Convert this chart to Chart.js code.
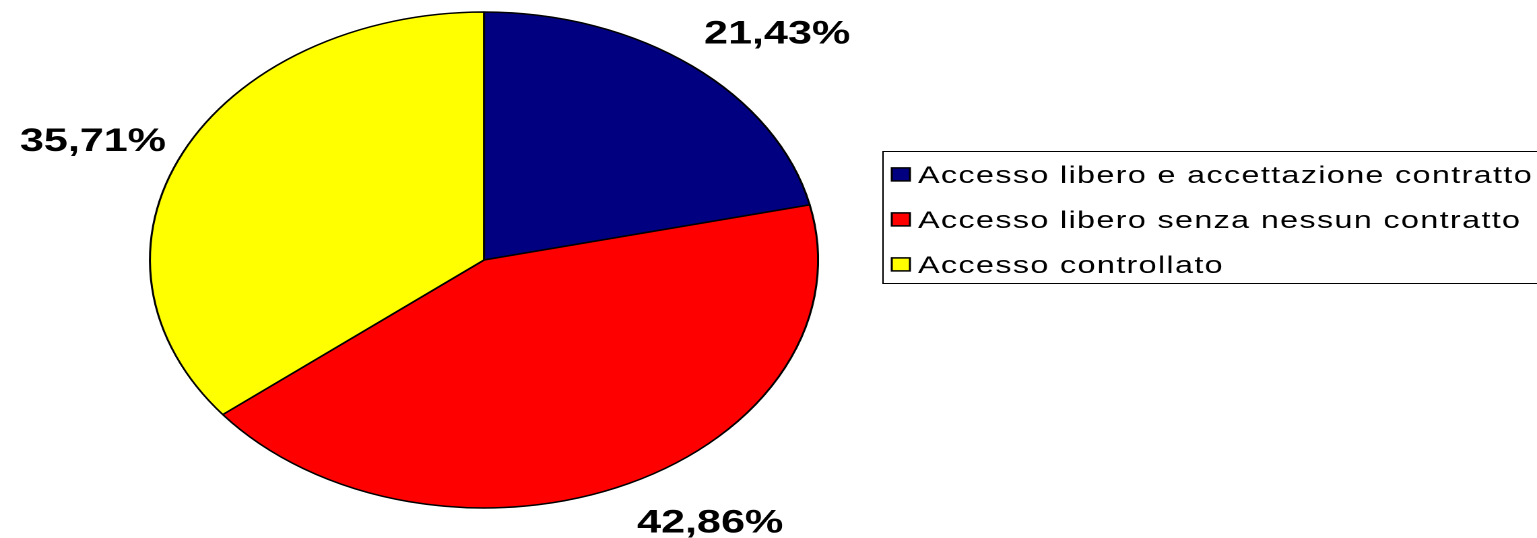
<!DOCTYPE html>
<html>
<head>
<meta charset="utf-8">
<script src="https://cdn.jsdelivr.net/npm/chart.js@4.4.1/dist/chart.umd.min.js"></script>
<style>
  html, body { margin: 0; padding: 0; background: #fff; overflow: hidden; }
  /* the whole sheet is stretched sideways, which turns the pie into an oval */
  #wrap { width: 1141px; height: 538px; transform: scaleX(1.34706); transform-origin: 0 0; }
</style>
</head>
<body>
<div id="wrap"><canvas id="chart" width="1141" height="538"></canvas></div>
<script>
const categories = [
  "Accesso libero e accettazione contratto",
  "Accesso libero senza nessun contratto",
  "Accesso controllato"
];
const percentages = [21.43, 42.86, 35.71];
const sliceColors = ["#000080", "#FF0000", "#FFFF00"];

const FONT = "'Liberation Sans', Arial, sans-serif";

// percentage labels just outside each slice
const sliceLabels = {
  id: "sliceLabels",
  afterDatasetsDraw(chart) {
    const ctx = chart.ctx;
    const meta = chart.getDatasetMeta(0);
    const size = 32;
    const capH = size * 0.716;
    ctx.save();
    ctx.font = "bold " + size + "px " + FONT;
    ctx.fillStyle = "#000";
    ctx.textBaseline = "alphabetic";
    meta.data.forEach((arc, i) => {
      const p = arc.getProps(["x", "y", "startAngle", "endAngle", "outerRadius"], true);
      const mid = (p.startAngle + p.endAngle) / 2;
      const cx = Math.cos(mid), cy = Math.sin(mid);
      const ax = p.x + (p.outerRadius + 14) * cx;
      const ay = p.y + (p.outerRadius + 29) * cy;
      ctx.textAlign = cx > 0.3 ? "left" : (cx < -0.3 ? "right" : "center");
      let base;
      if (Math.abs(cx) > 0.85) base = ay + capH / 2;
      else if (cy < 0) base = ay;
      else base = ay + capH;
      const txt = chart.data.datasets[0].data[i].toFixed(2).replace(".", ",") + "%";
      ctx.fillText(txt, ax, base);
    });
    ctx.restore();
  }
};

// boxed legend on the right
const boxLegend = {
  id: "boxLegend",
  afterDraw(chart) {
    const ctx = chart.ctx;
    const left = 655.5, top = 151.5, bottom = 283.5;
    const rowStep = 45, firstBase = 183;
    ctx.save();
    ctx.strokeStyle = "#000";
    ctx.lineWidth = 1;
    ctx.beginPath();
    ctx.moveTo(chart.width + 2, top);
    ctx.lineTo(left, top);
    ctx.lineTo(left, bottom);
    ctx.lineTo(chart.width + 2, bottom);
    ctx.stroke();

    ctx.font = "24px " + FONT;
    ctx.letterSpacing = "1px";
    ctx.textAlign = "left";
    ctx.textBaseline = "alphabetic";
    chart.data.labels.forEach((lab, i) => {
      const base = firstBase + i * rowStep;
      const midY = base - 24 * 0.716 / 2;
      ctx.fillStyle = chart.data.datasets[0].backgroundColor[i];
      ctx.fillRect(662, midY - 6.5, 13.5, 13);
      ctx.lineWidth = 1.5;
      ctx.strokeRect(662, midY - 6.5, 13.5, 13);
      ctx.fillStyle = "#000";
      ctx.fillText(lab, 681.5, base);
    });
    ctx.restore();
  }
};

new Chart(document.getElementById("chart"), {
  type: "pie",
  data: {
    labels: categories,
    datasets: [{
      data: percentages,
      backgroundColor: sliceColors,
      borderColor: "#000",
      borderWidth: 1.5,
      radius: 248
    }]
  },
  options: {
    responsive: false,
    animation: false,
    devicePixelRatio: 2,
    layout: { padding: { left: 0, right: 422.4, top: 12, bottom: 30 } },
    plugins: {
      legend: { display: false },
      tooltip: { enabled: false }
    }
  },
  plugins: [sliceLabels, boxLegend]
});
</script>
</body>
</html>
